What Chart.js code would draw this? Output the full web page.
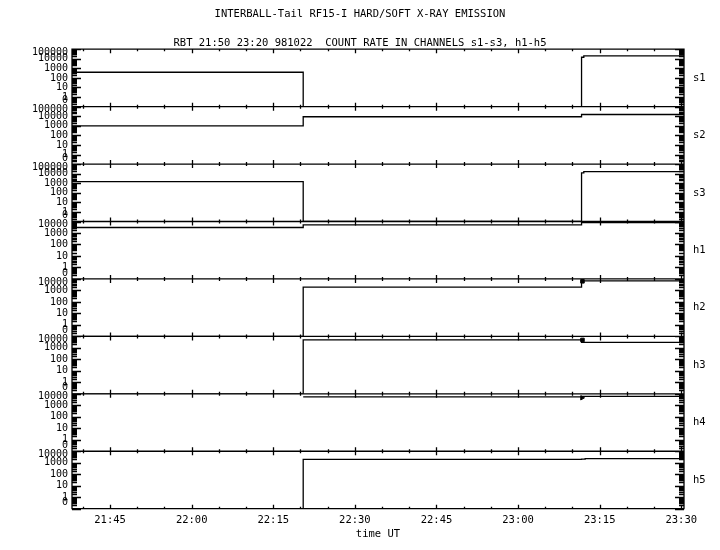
<!DOCTYPE html>
<html><head><meta charset="utf-8">
<script src="https://cdn.jsdelivr.net/npm/chart.js@4/dist/chart.umd.min.js"></script>
<style>html,body{margin:0;padding:0;background:#fff}canvas{display:block}</style>
</head><body>
<canvas id="c" width="720" height="550"></canvas>
<script>
// ---------- texts ----------
const TITLE = 'INTERBALL-Tail RF15-I HARD/SOFT X-RAY EMISSION';
const SUBTITLE = 'RBT 21:50 23:20 981022  COUNT RATE IN CHANNELS s1-s3, h1-h5';
const X_TITLE = 'time UT';

// ---------- axes ----------
const channels = ['s1', 's2', 's3', 'h1', 'h2', 'h3', 'h4', 'h5'];
const axisMax = [1e5, 1e5, 1e5, 1e4, 1e4, 1e4, 1e4, 1e4];
const axisMin = 0.1;               // labelled "0"
const timeStart = '21:38:00';
const timeEnd = '23:30:30';
const xTickLabels = ['21:45', '22:00', '22:15', '22:30', '22:45', '23:00', '23:15', '23:30'];

// ---------- series (count rate, stepped; 0 = no counts) ----------
const s1Times = ['21:38:00', '22:20:30', '23:11:40', '23:12:05', '23:30:30'];
const s1Values = [390, 0, 14500, 20000, 20000];
const s2Times = ['21:38:00', '22:20:30', '23:11:40', '23:30:30'];
const s2Values = [1000, 8800, 15000, 15000];
const s3Times = ['21:38:00', '22:20:30', '23:11:40', '23:12:05', '23:30:30'];
const s3Values = [1500, 0, 12000, 16500, 16500];
const h1Times = ['21:38:00', '22:20:30', '23:11:40', '23:30:30'];
const h1Values = [3000, 5100, 8000, 8000];
const h2Times = ['21:38:00', '22:20:30', '23:11:40', '23:30:30'];
const h2Values = [0, 1950, 6800, 6800];
const h3Times = ['21:38:00', '22:20:30', '23:11:40', '23:30:30'];
const h3Values = [0, 4900, 3000, 3000];
const h4Times = ['21:38:00', '22:20:30', '23:11:40', '23:30:30'];
const h4Values = [null, 5400, 6000, 6000];
const h5Times = ['21:38:00', '22:20:30', '23:11:40', '23:12:20', '23:30:30'];
const h5Values = [0, 2000, 2100, 2300, 2300];

// isolated marks at the 23:12 transition
const h2MarkTimes = ['23:11:50']; const h2MarkValues = [6200];
const h3MarkTimes = ['23:11:50']; const h3MarkValues = [4900];
const h4MarkTimes = ['23:11:45']; const h4MarkValues = [4500];

const seriesTimes = [s1Times, s2Times, s3Times, h1Times, h2Times, h3Times, h4Times, h5Times];
const seriesValues = [s1Values, s2Values, s3Values, h1Values, h2Values, h3Values, h4Values, h5Values];
const marks = [null, null, null, null,
  [h2MarkTimes, h2MarkValues, 'rect'], [h3MarkTimes, h3MarkValues, 'rect'], [h4MarkTimes, h4MarkValues, 'triangle'], null];

// ---------- helpers ----------
function toMin(t) { const p = t.split(':').map(Number); return p[0] * 60 + p[1] + (p[2] || 0) / 60; }
function fmtMin(m) { const h = Math.floor(m / 60), mm = Math.round(m - h * 60); return String(h).padStart(2, '0') + ':' + String(mm).padStart(2, '0'); }
function toY(v) { return v === null ? null : (v <= 0 ? axisMin : v); }
function isDecade(v) { const l = Math.log10(v); return Math.abs(l - Math.round(l)) < 1e-6; }

const FONT = 'DejaVu Sans Mono';
const LW = 1.3;
const tickMinutes = xTickLabels.map(toMin);

const datasets = [];
channels.forEach((name, i) => {
  datasets.push({
    label: name,
    data: seriesTimes[i].map((t, k) => ({ x: toMin(t), y: toY(seriesValues[i][k]) })),
    xAxisID: 'x', yAxisID: 'y' + i,
    stepped: true, spanGaps: false,
    borderColor: '#000', borderWidth: LW, pointRadius: 0, fill: false
  });
  if (marks[i]) {
    const [mt, mv, style] = marks[i];
    datasets.push({
      label: name + ' mark',
      data: mt.map((t, k) => ({ x: toMin(t), y: mv[k] })),
      xAxisID: 'x', yAxisID: 'y' + i, showLine: false,
      pointStyle: style, pointRotation: style === 'triangle' ? 90 : 0,
      pointRadius: 2.5, pointBackgroundColor: '#000', pointBorderColor: '#000', pointBorderWidth: 1
    });
  }
});

const scales = {
  x: {
    type: 'linear', position: 'bottom',
    min: toMin(timeStart), max: toMin(timeEnd),
    afterBuildTicks: s => { s.ticks = tickMinutes.map(v => ({ value: v })); },
    afterFit: s => { s.height = 41.3; },
    grid: { display: false, drawTicks: false }, border: { display: false },
    ticks: { autoSkip: false, maxRotation: 0, padding: 5, color: '#000',
      font: { family: FONT, size: 10.5 }, callback: v => fmtMin(v) },
    title: { display: true, text: X_TITLE, color: '#000', font: { family: FONT, size: 10.5 },
      padding: { top: 0, bottom: 9 } }
  }
};
channels.forEach((name, i) => {
  scales['y' + i] = {
    type: 'logarithmic', position: 'left', stack: 'L', stackWeight: 1, weight: 20 - i,
    min: axisMin, max: axisMax[i],
    afterFit: s => { s.width = 72; },
    grid: { display: false, drawTicks: false }, border: { display: false },
    ticks: { autoSkip: false, padding: 4, color: '#000',
      font: { family: FONT, size: 10, lineHeight: 0.6 },
      callback: (v, idx, ticks) => {
        if (!isDecade(v)) return '';
        const txt = v < 1 ? '0' : String(Math.round(v));
        if (idx === 0) return [txt, '', ''];
        if (idx === ticks.length - 1) return ['', txt];
        return txt;
      } }
  };
  scales['r' + i] = {
    type: 'linear', position: 'right', stack: 'R', stackWeight: 1, weight: i,
    min: 0, max: 1,
    afterBuildTicks: s => { s.ticks = [{ value: 0.5 }]; },
    afterFit: s => { s.width = 36; },
    grid: { display: false, drawTicks: false }, border: { display: false },
    ticks: { autoSkip: false, padding: 9, color: '#000', font: { family: FONT, size: 10.5 },
      callback: () => name }
  };
});

const frame = {
  id: 'frame',
  afterDraw(chart) {
    const { ctx, chartArea: a } = chart;
    const xs = chart.scales.x;
    const L = a.left, R = a.right;
    ctx.save();
    ctx.strokeStyle = '#000';
    ctx.lineWidth = LW;
    ctx.beginPath();
    channels.forEach((name, i) => {
      const ys = chart.scales['y' + i];
      const T = ys.top, B = ys.bottom;
      ctx.rect(L, T, R - L, B - T);
      ys.ticks.forEach(t => {
        const e = Math.floor(Math.log10(t.value) + 1e-9);
        const m = t.value / Math.pow(10, e);
        if (Math.abs(m - 1.5) < 1e-6) return;
        const len = isDecade(t.value) ? 9 : 5;
        const py = Math.round(ys.getPixelForValue(t.value)) + 0.5;
        ctx.moveTo(L, py); ctx.lineTo(L + len, py);
        ctx.moveTo(R, py); ctx.lineTo(R - len, py);
      });
      xs.ticks.forEach(t => {
        const px = Math.round(xs.getPixelForValue(t.value)) + 0.5;
        ctx.moveTo(px, T); ctx.lineTo(px, T + 4);
        ctx.moveTo(px, B); ctx.lineTo(px, B - 4);
      });
      for (let m = Math.ceil(xs.min / 5) * 5; m <= xs.max; m += 5) {
        if (m % 15 === 0) continue;
        const px = Math.round(xs.getPixelForValue(m)) + 0.5;
        ctx.moveTo(px, T); ctx.lineTo(px, T + 2);
        ctx.moveTo(px, B); ctx.lineTo(px, B - 2);
      }
    });
    ctx.stroke();
    ctx.restore();
  }
};

new Chart(document.getElementById('c'), {
  type: 'line',
  data: { datasets },
  options: {
    responsive: false, animation: false, devicePixelRatio: 1,
    layout: { padding: 0 },
    plugins: {
      legend: { display: false }, tooltip: { enabled: false },
      title: { display: true, text: TITLE, color: '#000', font: { family: FONT, size: 10.5, weight: 'normal' },
        padding: { top: 8, bottom: 10 } },
      subtitle: { display: true, text: SUBTITLE, color: '#000', font: { family: FONT, size: 10.5, weight: 'normal' },
        padding: { top: 6, bottom: 0 } }
    },
    scales
  },
  plugins: [frame]
});
</script>
</body></html>
